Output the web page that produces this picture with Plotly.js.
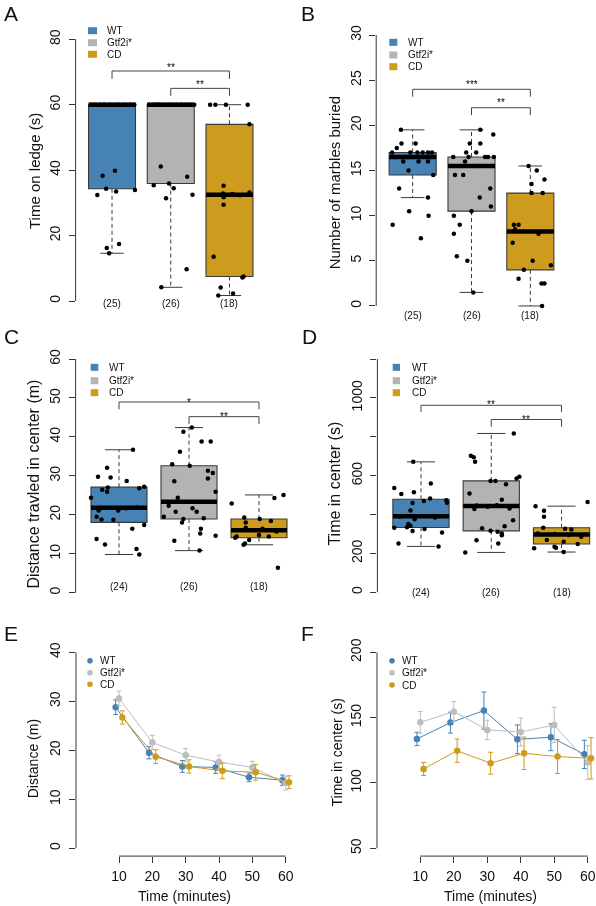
<!DOCTYPE html>
<html><head><meta charset="utf-8">
<script src="https://cdn.plot.ly/plotly-3.0.1.min.js"></script>
<style>html,body{margin:0;padding:0;background:#fff}#chart{width:596px;height:906px;will-change:transform}</style>
</head><body><div id="chart"></div>
<script>
// ================= DATA =================
const groups = ['WT', 'Gtf2i*', 'CD'];

// A: time on ledge (s)
const ledgeN = ['(25)', '(26)', '(18)'];
const ledgeWT = [60,60,60,60,60,60,60,60,60,60,60,60,60,60,60,60, 38.3,39.8,32.4,34.3,33.5,33.9,16.2,17.4,14.6];
const ledgeWTJit = [-0.36,-0.30,-0.27,-0.2,-0.15,-0.12,-0.05,-0.02,0.04,0.1,0.13,0.2,0.24,0.3,0.33,0.38, -0.16,0.05,-0.25,-0.10,0.07,0.39,-0.09,0.12,-0.05];
const ledgeGtf = [60,60,60,60,60,60,60,60,60,60,60,60,60,60,60,60,60, 41.1,35.4,35.9,31.4,38.0,32.5,9.7,4.2,34.5];
const ledgeGtfJit = [0.40,-0.37,-0.31,-0.26,-0.2,-0.16,-0.1,-0.04,0.0,0.05,0.1,0.16,0.2,0.25,0.3,0.35,-0.22, -0.17,-0.29,-0.03,-0.08,0.28,0.37,0.27,-0.16,0.05];
const ledgeCD = [60,60,60,60,54.0,35.2,32.9,33.2,32.7,32.3,31.7,29.4,13.5,7.2,7.5,4.1,1.7,2.3];
const ledgeCDJit = [-0.33,-0.24,-0.06,0.31,0.34,-0.10,-0.11,0.34,0.05,0.18,-0.10,-0.10,-0.27,0.22,0.24,-0.15,-0.19,0.06];

// B: number of marbles buried
const marblesN = ['(25)', '(26)', '(18)'];
const marblesWT = [19.5,17.5,18,18,17,17,16,16,16,15,14.5,13,12,10.5,10,9,7.5,16.5,16.5,16.5,16.5,17,17,17,17];
const marblesWTJit = [-0.20,-0.27,-0.19,0.05,0.08,0.26,-0.16,0.10,0.26,-0.07,0.35,-0.23,0.26,-0.06,0.27,-0.34,0.14,-0.30,-0.08,0.12,0.31,-0.35,-0.04,0.17,0.33];
const marblesGtf = [19.5,19,18,18,17,17,16.5,16.5,16.5,16,14.5,14.5,13,12,11,10.5,10,9,8,5.5,5,1.5,15.5,15.5,16.5,16.5];
const marblesGtfJit = [0.15,0.37,-0.03,0.15,-0.09,0.08,-0.31,0.23,0.28,-0.11,-0.28,-0.14,0.32,0.14,0.33,0.00,-0.30,-0.20,-0.30,-0.25,-0.07,0.03,-0.20,0.10,-0.05,0.38];
const marblesCD = [15.5,15,13.5,14,12.5,12.5,9,9,8.5,8,7,5,4.5,4,3,2.5,2.5,0];
const marblesCDJit = [-0.03,0.11,0.02,0.24,0.02,0.21,-0.28,-0.20,-0.26,0.14,-0.30,0.04,0.35,-0.11,-0.20,0.19,0.24,0.20];

// C: distance travelled in center (m)
const distN = ['(24)', '(26)', '(18)'];
const distWT = [36.7,32.1,29.8,29.6,28.7,27.0,27.2,26.8,26.4,25.9,24.4,21.1,21.9,21.1,21.7,19.5,18.8,18.7,17.4,16.4,13.8,12.4,11.2,9.8];
const distWTJit = [0.20,-0.17,-0.30,-0.12,0.11,-0.16,0.36,0.29,-0.24,-0.17,-0.40,-0.29,0.25,-0.01,0.10,-0.32,-0.25,-0.08,0.36,0.19,-0.32,-0.20,0.25,0.29];
const distGtf = [42.4,41.3,38.8,38.8,36.2,33.0,32.6,31.3,30.7,28.6,29.3,25.9,24.4,22.3,21.7,20.8,20.8,19.5,18.9,19.1,18.0,16.4,15.2,14.6,13.3,10.8];
const distGtfJit = [0.04,-0.08,0.18,0.31,-0.13,-0.24,0.01,0.27,0.34,-0.21,0.27,0.38,-0.16,-0.29,0.05,-0.19,0.11,-0.36,-0.08,0.21,-0.10,0.17,0.16,0.38,-0.21,0.15];
const distCD = [25.1,24.3,22.9,19.3,18.9,18.4,18.0,16.7,16.4,15.7,14.8,14.4,14.4,14.1,13.5,12.6,12.3,6.4];
const distCDJit = [0.35,0.22,-0.39,-0.21,0.01,0.17,-0.19,-0.19,0.05,0.25,0.00,0.14,-0.32,-0.34,-0.14,-0.20,-0.22,0.27];

// D: time in center (s)
const timeN = ['(24)', '(26)', '(18)'];
const timeWT = [671,560,537,514,505,483,469,474,460,459,421,393,376,351,342,335,332,325,315,308,251,236,385,390];
const timeWTJit = [-0.11,0.14,-0.38,-0.10,-0.28,0.13,0.04,0.36,0.37,-0.12,-0.15,-0.11,-0.09,-0.18,-0.15,-0.20,-0.38,0.05,-0.12,0.30,-0.32,0.25,0.20,-0.30];
const timeGtf = [817,702,695,671,572,573,585,594,556,508,476,447,428,448,431,371,340,330,316,312,303,294,268,251,205,440];
const timeGtfJit = [0.32,-0.29,-0.25,-0.23,-0.01,0.06,0.36,0.40,0.21,-0.31,0.15,-0.21,-0.24,0.08,0.26,0.31,0.19,-0.13,-0.01,0.09,0.15,0.15,-0.21,0.10,-0.37,-0.05];
const timeCD = [465,443,419,388,332,327,323,303,286,269,260,248,226,234,229,207,295,300];
const timeCDJit = [0.37,-0.37,-0.25,-0.25,-0.26,0.05,0.14,-0.34,0.28,-0.21,0.03,0.23,-0.39,-0.10,-0.08,0.03,0.10,-0.10];

// E / F: time course
const minutes = [10, 20, 30, 40, 50, 60];
const distanceWT = [28.8, 19.5, 16.7, 16.5, 14.5, 13.9];
const distanceWTse = [1.5, 1.25, 1.2, 1.2, 0.9, 1.05];
const distanceGtf = [30.6, 21.6, 19.0, 17.6, 16.5, 13.3];
const distanceGtfse = [1.5, 1.45, 1.35, 1.4, 1.25, 1.4];
const distanceCD = [26.7, 18.7, 16.7, 15.8, 15.5, 13.5];
const distanceCDse = [1.35, 1.4, 1.35, 1.6, 1.6, 1.3];
const centerWT = [133.7, 146.2, 155.4, 133.4, 135.0, 121.9];
const centerWTse = [5.1, 8.0, 14.2, 11.0, 10.3, 10.8];
const centerGtf = [146.4, 154.6, 140.6, 139.0, 144.4, 115.6];
const centerGtfse = [8.3, 7.7, 7.4, 10.7, 13.5, 13.0];
const centerCD = [110.7, 124.7, 115.1, 122.7, 120.2, 118.9];
const centerCDse = [5.0, 8.9, 8.4, 12.4, 13.0, 15.8];

// ================= STYLE / LAYOUT =================
const W = 596, H = 906;
const PX = x => x / W, PY = y => 1 - y / H;
const colors = ['#4682B4', '#B3B3B3', '#CD9B1D'];
const lineColors = ['#4682B4', '#BDBDBD', '#CD9B1D'];
const FONT = 'Liberation Sans, Arial, Helvetica, sans-serif';
const AX = '#333';

function fivenum(a) {
  const s = [...a].sort((p, q) => p - q), n = s.length;
  const n4 = Math.floor((n + 3) / 2) / 2;
  return [1, n4, (n + 1) / 2, n + 1 - n4, n].map(v => 0.5 * (s[Math.floor(v) - 1] + s[Math.ceil(v) - 1]));
}
function boxStats(a) {
  const f = fivenum(a), iqr = f[3] - f[1];
  const lo = f[1] - 1.5 * iqr, hi = f[3] + 1.5 * iqr;
  const inside = a.filter(v => v >= lo && v <= hi);
  return { q1: f[1], med: f[2], q3: f[3], wlo: Math.min(...inside), whi: Math.max(...inside) };
}

const boxPanels = [
  { s: '', letter: 'A', letterXY: [1.5, 0], dom: [75.6, 265.9, 28.8, 311.5], xr: [0.38, 3.62], yr: [-3.2, 83.2],
    yt: [0, 20, 40, 60, 80], ytt: ['0', '20', '40', '60', '80'], axis: [0, 80],
    title: 'Time on ledge (s)', titleXY: [35, 171], titleSize: 15,
    sets: [[ledgeWT, ledgeWTJit], [ledgeGtf, ledgeGtfJit], [ledgeCD, ledgeCDJit]], counts: ledgeN, countY: 304,
    legend: { x0: 88, x1: 97, rows: [30.7, 42.7, 54.3], tx: 105 },
    brackets: [[1, 3, 70.3, 67.9], [2, 3, 65.0, 62.7]], stars: [['**', 170.7, 67], ['**', 200, 84]] },
  { s: '2', letter: 'B', letterXY: [299, 0], dom: [376.2, 566.8, 24.2, 316.8], xr: [0.38, 3.62], yr: [-1.2, 31.2],
    yt: [0, 5, 10, 15, 20, 25, 30], ytt: ['0', '5', '10', '15', '20', '25', '30'], axis: [0, 30],
    title: 'Number of marbles buried', titleXY: [334.3, 183], titleSize: 15,
    sets: [[marblesWT, marblesWTJit], [marblesGtf, marblesGtfJit], [marblesCD, marblesCDJit]], counts: marblesN, countY: 315,
    legend: { x0: 389.3, x1: 397.3, rows: [42.3, 55, 66.7], tx: 406 },
    brackets: [[1, 3, 23.99, 23.17], [2, 3, 21.95, 21.14]], stars: [['***', 471.5, 84], ['**', 501, 102]] },
  { s: '3', letter: 'C', letterXY: [1.5, 323], dom: [75.6, 302.4, 349.7, 602], xr: [0.38, 3.62], yr: [-2.4, 62.4],
    yt: [0, 10, 20, 30, 40, 50, 60], ytt: ['0', '10', '20', '30', '40', '50', '60'], axis: [0, 60],
    title: 'Distance travled in center (m)', titleXY: [33.3, 484.3], titleSize: 16,
    sets: [[distWT, distWTJit], [distGtf, distGtfJit], [distCD, distCDJit]], counts: distN, countY: 586.7,
    legend: { x0: 90.7, x1: 98.3, rows: [367.3, 380.7, 392.7], tx: 107 },
    brackets: [[1, 3, 48.97, 47.1], [2, 3, 45.2, 43.32]], stars: [['*', 189, 402], ['**', 224, 416.3]] },
  { s: '4', letter: 'D', letterXY: [300, 323], dom: [377.4, 596, 349.7, 601.6], xr: [0.38, 3.49], yr: [-48, 1248],
    yt: [0, 200, 400, 600, 800, 1000, 1200], ytt: ['0', '200', '', '600', '', '1000', ''], axis: [0, 1200],
    title: 'Time in center (s)', titleXY: [334.3, 483.3], titleSize: 16,
    sets: [[timeWT, timeWTJit], [timeGtf, timeGtfJit], [timeCD, timeCDJit]], counts: timeN, countY: 592.7,
    legend: { x0: 392.7, x1: 400, rows: [367.3, 380.7, 392.7], tx: 410 },
    brackets: [[1, 3, 962, 928], [2, 3, 889, 851]], stars: [['**', 491.3, 404.7], ['**', 526.3, 419.7]] }
];

const linePanels = [
  { s: '5', letter: 'E', letterXY: [1.5, 620], dom: [76, 293, 644.5, 856.1], xr: [-2.9, 62.19], yr: [-1.6, 41.6],
    yt: [0, 10, 20, 30, 40], axis: [0, 40], title: 'Distance (m)', titleXY: [33.3, 759], xTitleXY: [184.7, 896],
    series: [[distanceWT, distanceWTse], [distanceGtf, distanceGtfse], [distanceCD, distanceCDse]],
    legend: { dx: 90, rows: [660.7, 672.7, 684.3], tx: 98.3 } },
  { s: '6', letter: 'F', letterXY: [299, 620], dom: [377, 596, 644.5, 856.1], xr: [-2.93, 62.48], yr: [44, 206],
    yt: [50, 100, 150, 200], axis: [50, 200], title: 'Time in center (s)', titleXY: [336, 752.5], xTitleXY: [490.3, 896],
    series: [[centerWT, centerWTse], [centerGtf, centerGtfse], [centerCD, centerCDse]],
    legend: { dx: 392, rows: [660.7, 672.7, 685], tx: 400.3 } }
];

const traces = [], shapes = [], annotations = [];
const layout = {
  width: W, height: H, margin: { l: 0, r: 0, t: 0, b: 0 },
  paper_bgcolor: '#fff', plot_bgcolor: 'rgba(0,0,0,0)', showlegend: false, boxmode: 'overlay',
  font: { family: FONT, color: '#111' }
};

function ann(text, x, y, size, extra) {
  annotations.push(Object.assign({ text, x: PX(x), y: PY(y), xref: 'paper', yref: 'paper', showarrow: false,
    font: { family: FONT, size, color: '#111' }, xanchor: 'center', yanchor: 'middle' }, extra || {}));
}

function setAxes(p, xextra, yextra) {
  const xn = 'xaxis' + p.s, yn = 'yaxis' + p.s;
  layout[xn] = Object.assign({ domain: [PX(p.dom[0]), PX(p.dom[1])], range: p.xr, anchor: 'y' + p.s,
    showgrid: false, zeroline: false, showline: false, fixedrange: true }, xextra);
  layout[yn] = Object.assign({ domain: [PY(p.dom[3]), PY(p.dom[2])], range: p.yr, anchor: 'x' + p.s,
    showgrid: false, zeroline: false, showline: false, fixedrange: true,
    tickvals: p.yt, ticktext: p.ytt || p.yt.map(String), tickangle: -90, ticks: 'outside', ticklen: 6,
    tickwidth: 1, tickcolor: AX, tickfont: { size: 14, family: FONT, color: '#111' }, ticklabelstandoff: 3 }, yextra);
  // R-style y axis line spanning only the tick range
  shapes.push({ type: 'line', xref: 'paper', yref: 'y' + p.s, x0: PX(p.dom[0]), x1: PX(p.dom[0]),
    y0: p.axis[0], y1: p.axis[1], line: { color: AX, width: 1 } });
  ann(p.letter, p.letterXY[0], p.letterXY[1], 21, { xanchor: 'left', yanchor: 'top' });
  ann(p.title, p.titleXY[0], p.titleXY[1], p.titleSize || 14, { textangle: -90 });
}

// ---------- box panels ----------
boxPanels.forEach(p => {
  setAxes(p, { ticks: '', showticklabels: false }, {});
  const xa = 'x' + p.s, ya = 'y' + p.s;
  const wx = [], wy = [], cx = [], cy = [], mx = [], my = [];
  p.sets.forEach(([vals, jit], i) => {
    const k = i + 1, st = boxStats(vals);
    traces.push({ type: 'box', xaxis: xa, yaxis: ya, x: [k], q1: [st.q1], median: [st.med], q3: [st.q3],
      lowerfence: [st.q1], upperfence: [st.q3], width: 0.8, whiskerwidth: 0, boxpoints: false,
      fillcolor: colors[i], line: { color: '#3a3a3a', width: 1.1 }, hoverinfo: 'skip' });
    wx.push(k, k, null, k, k, null); wy.push(st.q3, st.whi, null, st.q1, st.wlo, null);
    cx.push(k - 0.2, k + 0.2, null, k - 0.2, k + 0.2, null); cy.push(st.whi, st.whi, null, st.wlo, st.wlo, null);
    mx.push(k - 0.4, k + 0.4, null); my.push(st.med, st.med, null);
    annotations.push({ text: p.counts[i], x: k, xref: xa, y: PY(p.countY), yref: 'paper', showarrow: false,
      font: { family: FONT, size: 10, color: '#111' }, xanchor: 'center', yanchor: 'middle' });
  });
  traces.push({ type: 'scatter', mode: 'lines', xaxis: xa, yaxis: ya, x: wx, y: wy,
    line: { color: '#3a3a3a', width: 1, dash: '4px,3px' }, hoverinfo: 'skip' });
  traces.push({ type: 'scatter', mode: 'lines', xaxis: xa, yaxis: ya, x: cx, y: cy,
    line: { color: '#3a3a3a', width: 1 }, hoverinfo: 'skip' });
  traces.push({ type: 'scatter', mode: 'lines', xaxis: xa, yaxis: ya, x: mx, y: my,
    line: { color: '#000', width: 4.5 }, hoverinfo: 'skip' });
  p.sets.forEach(([vals, jit], i) => {
    traces.push({ type: 'scatter', mode: 'markers', xaxis: xa, yaxis: ya,
      x: vals.map((v, j) => i + 1 + jit[j]), y: vals, marker: { color: '#000', size: 4.5 }, hoverinfo: 'skip' });
  });
  // significance brackets
  p.brackets.forEach(([x0, x1, y, yd]) => {
    shapes.push({ type: 'path', xref: xa, yref: ya, path: `M ${x0},${yd} L ${x0},${y} L ${x1},${y} L ${x1},${yd}`,
      line: { color: '#444', width: 1 } });
  });
  p.stars.forEach(([t, x, y]) => ann(t, x, y, 10, { font: { family: FONT, size: 10, color: '#000' } }));
  // legend
  p.legend.rows.forEach((ry, i) => {
    shapes.push({ type: 'rect', xref: 'paper', yref: 'paper', x0: PX(p.legend.x0), x1: PX(p.legend.x1),
      y0: PY(ry + 3.5), y1: PY(ry - 3.5), fillcolor: colors[i], line: { width: 0 } });
    ann(groups[i], p.legend.tx, ry, 10, { xanchor: 'left' });
  });
});

// ---------- line panels ----------
const dodge = [-1, 0, 1];
linePanels.forEach(p => {
  setAxes(p, { tickvals: minutes, ticks: 'outside', ticklen: 6, tickwidth: 1, tickcolor: AX,
    tickfont: { size: 14, family: FONT, color: '#111' }, showticklabels: true, ticklabelstandoff: 1 }, {});
  const xa = 'x' + p.s, ya = 'y' + p.s;
  shapes.push({ type: 'line', xref: xa, yref: 'paper', x0: minutes[0], x1: minutes[minutes.length - 1],
    y0: PY(p.dom[3]), y1: PY(p.dom[3]), line: { color: AX, width: 1 } });
  ann('Time (minutes)', p.xTitleXY[0], p.xTitleXY[1], 14);
  p.series.forEach(([vals, se], i) => {
    traces.push({ type: 'scatter', mode: 'lines+markers', xaxis: xa, yaxis: ya,
      x: minutes.map(m => m + dodge[i]), y: vals,
      error_y: { type: 'data', array: se, visible: true, color: lineColors[i], thickness: 1, width: 2.5 },
      line: { color: lineColors[i], width: 1 }, marker: { color: lineColors[i], size: 6.5 }, hoverinfo: 'skip' });
  });
  p.legend.rows.forEach((ry, i) => {
    shapes.push({ type: 'circle', xref: 'paper', yref: 'paper', x0: PX(p.legend.dx - 2.8), x1: PX(p.legend.dx + 2.8),
      y0: PY(ry + 2.8), y1: PY(ry - 2.8), fillcolor: lineColors[i], line: { width: 0 } });
    ann(groups[i], p.legend.tx, ry, 10, { xanchor: 'left' });
  });
});

layout.shapes = shapes;
layout.annotations = annotations;
Plotly.newPlot('chart', traces, layout, { staticPlot: true, displayModeBar: false });
</script>
</body></html>
